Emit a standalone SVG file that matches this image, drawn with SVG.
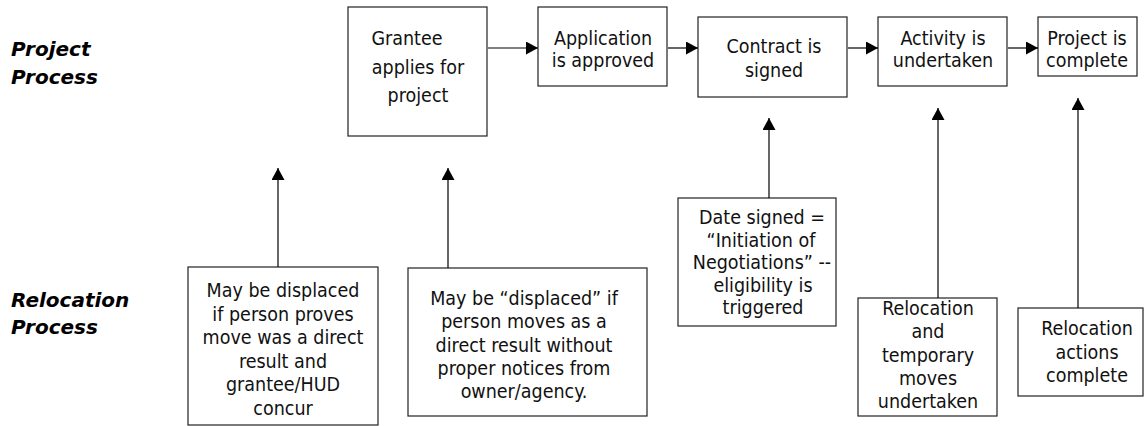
<svg xmlns="http://www.w3.org/2000/svg" width="1145" height="426" viewBox="0 0 1145 426">
<style>
.box{fill:#fff;stroke:#222;stroke-width:1.2}
.t{font-family:"DejaVu Sans Condensed","DejaVu Sans",sans-serif;font-stretch:condensed;font-size:19.5px;fill:#111;text-anchor:middle}
.lbl{font-family:"DejaVu Sans",sans-serif;font-size:20px;font-weight:bold;font-style:italic;fill:#000}
.c{stroke:#000;stroke-width:1.2;fill:none;marker-end:url(#ah)}
</style>
<defs>
<marker id="ah" markerUnits="userSpaceOnUse" markerWidth="13" markerHeight="13" refX="12" refY="6.5" orient="auto">
<path d="M0,0 L12,6.5 L0,13 z" fill="#000"/>
</marker>
</defs>
<g id="label-project"><text class="lbl" x="11" y="56">Project</text><text class="lbl" x="11" y="84">Process</text></g>
<g id="label-relocation"><text class="lbl" x="11" y="307">Relocation</text><text class="lbl" x="11" y="334">Process</text></g>

<g id="n-grantee"><rect class="box" x="348" y="7" width="139" height="129"/>
<text class="t" x="407" y="45">Grantee</text><text class="t" x="418" y="74">applies for</text><text class="t" x="418" y="102">project</text></g>
<g id="n-approved"><rect class="box" x="538" y="7" width="129" height="79"/>
<text class="t" x="603" y="45">Application</text><text class="t" x="603" y="67">is approved</text></g>
<g id="n-contract"><rect class="box" x="698" y="17" width="149" height="80"/>
<text class="t" x="774" y="53">Contract is</text><text class="t" x="774" y="77">signed</text></g>
<g id="n-activity"><rect class="box" x="878" y="17" width="129" height="69"/>
<text class="t" x="943" y="45">Activity is</text><text class="t" x="943" y="67">undertaken</text></g>
<g id="n-complete"><rect class="box" x="1038" y="17" width="99" height="59"/>
<text class="t" x="1087" y="45">Project is</text><text class="t" x="1087" y="67">complete</text></g>

<g id="n-maybe1"><rect class="box" x="188" y="267" width="190" height="158"/>
<text class="t" x="283" y="297">May be displaced</text><text class="t" x="283" y="320.5">if person proves</text><text class="t" x="283" y="344">move was a direct</text><text class="t" x="283" y="367.5">result and</text><text class="t" x="283" y="391">grantee/HUD</text><text class="t" x="283" y="414.5">concur</text></g>
<g id="n-maybe2"><rect class="box" x="408" y="268" width="239" height="148"/>
<text class="t" x="524" y="305">May be “displaced” if</text><text class="t" x="524" y="328.3">person moves as a</text><text class="t" x="524" y="351.6">direct result without</text><text class="t" x="524" y="374.9">proper notices from</text><text class="t" x="524" y="398.2">owner/agency.</text></g>
<g id="n-date"><rect class="box" x="678" y="198" width="158" height="128"/>
<text class="t" x="762" y="224">Date signed =</text><text class="t" x="761" y="246.5">“Initiation of</text><text class="t" x="762" y="269">Negotiations” --</text><text class="t" x="763" y="291.5">eligibility is</text><text class="t" x="763" y="314">triggered</text></g>
<g id="n-reloc1"><rect class="box" x="858" y="298" width="139" height="118"/>
<text class="t" x="928" y="315">Relocation</text><text class="t" x="928" y="338.3">and</text><text class="t" x="928" y="361.6">temporary</text><text class="t" x="928" y="384.9">moves</text><text class="t" x="928" y="408.2">undertaken</text></g>
<g id="n-reloc2"><rect class="box" x="1018" y="308" width="125" height="88"/>
<text class="t" x="1087" y="335">Relocation</text><text class="t" x="1087" y="358.5">actions</text><text class="t" x="1087" y="382">complete</text></g>

<g id="connectors">
<line class="c" x1="488" y1="48" x2="538" y2="48"/>
<line class="c" x1="668" y1="48" x2="698" y2="48"/>
<line class="c" x1="848" y1="48" x2="878" y2="48"/>
<line class="c" x1="1008" y1="48" x2="1038" y2="48"/>
<line class="c" x1="278" y1="267" x2="278" y2="168"/>
<line class="c" x1="448" y1="268" x2="448" y2="168"/>
<line class="c" x1="769" y1="198" x2="769" y2="118"/>
<line class="c" x1="938" y1="298" x2="938" y2="108"/>
<line class="c" x1="1078" y1="308" x2="1078" y2="98"/>
</g>
</svg>
